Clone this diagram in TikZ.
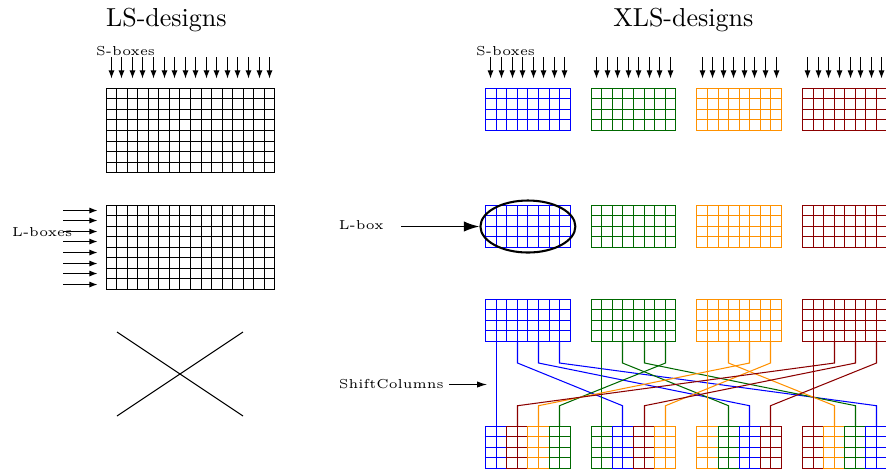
\documentclass[tikz,border=0pt]{standalone}
\usetikzlibrary{arrows.meta,shapes.geometric}
\definecolor{xc0}{RGB}{0,0,255}
\definecolor{xc1}{RGB}{0,105,0}
\definecolor{xc2}{RGB}{255,145,0}
\definecolor{xc3}{RGB}{139,0,0}
% #1 x0, #2 y0, #3 columns, #4 rows, #5 colour ; lines snapped to pixel centres
\newcommand\cellgrid[5]{%
  \draw[#5,line cap=rect]
    \foreach \k in {0,...,#3}{({floor(#1+\k*10.56)+0.5},{floor(#2)+0.5}) -- ({floor(#1+\k*10.56)+0.5},{floor(#2+#4*10.56)+0.5})}
    \foreach \k in {0,...,#4}{({floor(#1)+0.5},{floor(#2+\k*10.56)+0.5}) -- ({floor(#1+#3*10.56)+0.5},{floor(#2+\k*10.56)+0.5})};
}
\begin{document}
\begin{tikzpicture}[x=0.3846pt,y=-0.3846pt,line width=0.4pt,
  smalltip/.style={-{Latex[length=3.1pt,width=2.3pt]}},
  lbl/.style={font=\tiny,inner sep=0pt,anchor=base west},
  ttl/.style={font=\normalsize,inner sep=0pt,anchor=base}]
\useasboundingbox (0,0) rectangle (886,473);
% titles
\node[ttl] (lstitle) at (166.4,26.7) {LS-designs};
\node[ttl] (xlstitle) at (683.3,26.7) {XLS-designs};
% ---------- LS side ----------
\node[lbl] (sboxL) at (95.7,55.5) {S-boxes};
\foreach \i in {0,...,15}{
  \coordinate (ls\i) at ({floor(106+(\i+0.5)*10.56)+0.5},57);
  \coordinate (le\i) at ({floor(106+(\i+0.5)*10.56)+0.5},78.5);
  \draw[smalltip] (ls\i) -- (le\i);
}
\cellgrid{106}{88.3}{16}{8}{black}
\node[lbl] (lboxesL) at (11.7,236.7) {L-boxes};
\foreach \j in {0,...,7}{
  \coordinate (ms\j) at (63,{floor(205+(\j+0.5)*10.56)+0.5});
  \coordinate (me\j) at (97.5,{floor(205+(\j+0.5)*10.56)+0.5});
  \draw[smalltip] (ms\j) -- (me\j);
}
\cellgrid{106}{205}{16}{8}{black}
\coordinate (xa) at (117,332);
\coordinate (xb) at (243,416);
\coordinate (xc) at (117,416);
\coordinate (xd) at (243,332);
\draw (xa) -- (xb);
\draw (xc) -- (xd);
% ---------- XLS side ----------
\node[lbl] (sboxR) at (475.7,55.5) {S-boxes};
\foreach \g in {0,...,3}{
  \pgfmathsetmacro\gx{485.7+\g*105.6}
  \foreach \i in {0,...,7}{
    \coordinate (rs\g\i) at ({floor(\gx+(\i+0.5)*10.56)+0.5},57);
    \coordinate (re\g\i) at ({floor(\gx+(\i+0.5)*10.56)+0.5},78.5);
    \draw[smalltip] (rs\g\i) -- (re\g\i);
  }
  \cellgrid{\gx}{88.3}{8}{4}{xc\g}
  \cellgrid{\gx}{205}{8}{4}{xc\g}
  \cellgrid{\gx}{299.3}{8}{4}{xc\g}
}
% L-box
\node[draw,ellipse,line width=0.8pt,inner sep=0pt,minimum width=36.5pt,minimum height=20pt] (ell) at (527.9,226.5) {};
\node[lbl] (lboxR) at (338.3,229.3) {L-box};
\coordinate (lba) at (401,226.5);
\draw[line width=0.6pt,-{Latex[length=6pt,width=4pt]}] (lba) -- (lba -| ell.west);
% ShiftColumns
\node[lbl] (shift) at (338.3,388.3) {ShiftColumns};
\coordinate (sca) at (449,384.5);
\coordinate (scb) at (487,384.5);
\draw[-{Latex[length=3.8pt,width=2.4pt]}] (sca) -- (scb);
% wires
\foreach \g in {0,...,3}{
  \foreach \p in {0,...,3}{
    \pgfmathtruncatemacro\d{mod(\g+\p,4)}
    \pgfmathsetmacro\sx{floor(485.7+\g*105.6+(2*\p+1)*10.56)+0.5}
    \pgfmathsetmacro\dx{floor(485.7+\d*105.6+(2*\p+1)*10.56)+0.5}
    \coordinate (w\g\p a) at (\sx,341.5);
    \coordinate (w\g\p b) at (\sx,363);
    \coordinate (w\g\p c) at (\dx,405.7);
    \coordinate (w\g\p d) at (\dx,426);
    \draw[xc\g] (w\g\p a) -- (w\g\p b) -- (w\g\p c) -- (w\g\p d);
  }
}
% bottom shuffled grids
\foreach \g in {0,...,3}{
  \foreach \p in {0,...,3}{
    \pgfmathtruncatemacro\s{mod(\g-\p+4,4)}
    \pgfmathsetmacro\bx{485.7+\g*105.6+2*\p*10.56}
    \cellgrid{\bx}{426}{2}{4}{xc\s}
  }
}
\end{tikzpicture}
\end{document}
